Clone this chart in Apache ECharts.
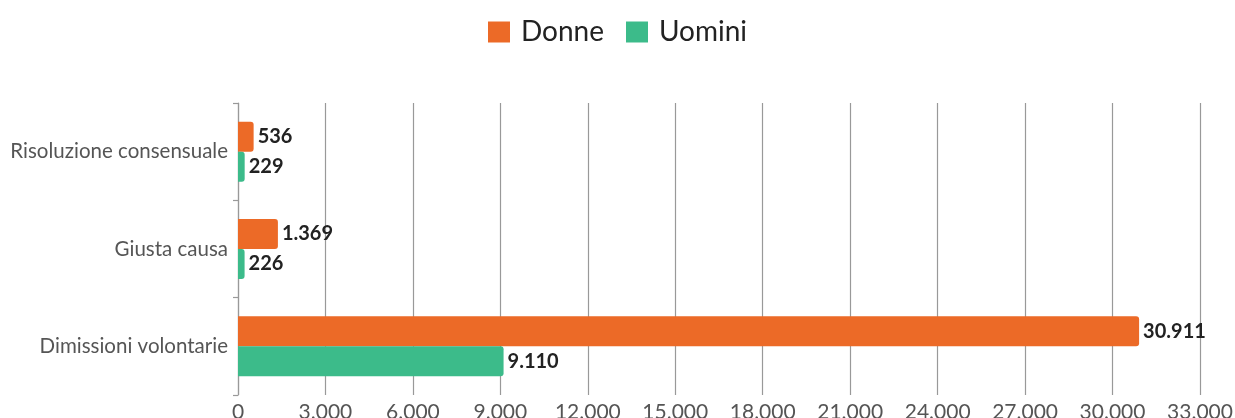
<!DOCTYPE html>
<html>
<head>
<meta charset="utf-8">
<script src="https://cdn.jsdelivr.net/npm/echarts@6/dist/echarts.min.js"></script>
<style>
  html, body { margin: 0; padding: 0; background: #fff; }
  #chart { width: 1235px; height: 418px; }
</style>
</head>
<body>
<div id="chart"></div>
<script>
const categories = ['Risoluzione consensuale', 'Giusta causa', 'Dimissioni volontarie']
const donne = [536, 1369, 30911]
const uomini = [229, 226, 9110]
const seriesNames = ['Donne', 'Uomini']

// separatore migliaia italiano
const fmt = v => String(v).replace(/\B(?=(\d{3})+(?!\d))/g, '.')

const chart = echarts.init(document.getElementById('chart'))

const valueLabel = {
  show: true,
  position: 'right',
  distance: 4,
  fontFamily: 'Lato',
  fontWeight: 'bold',
  fontSize: 20,
  color: '#222',
  formatter: p => fmt(p.value)
}

const option = {
  animation: false,
  textStyle: { fontFamily: 'Lato' },
  legend: {
    data: seriesNames,
    top: 13,
    left: 'center',
    itemWidth: 22,
    itemHeight: 21,
    itemGap: 22,
    icon: 'rect',
    textStyle: { fontSize: 28, color: '#222', fontFamily: 'Lato', padding: [0, 0, 0, 6] }
  },
  grid: {
    left: 238,
    right: 35,
    top: 103,
    bottom: 23,
    containLabel: false,
    outerBoundsMode: 'none'
  },
  xAxis: {
    type: 'value',
    min: 0,
    max: 33000,
    interval: 3000,
    axisLine: { show: false },
    axisTick: { show: false },
    axisLabel: {
      fontSize: 21,
      color: '#555',
      margin: 7,
      formatter: v => fmt(v)
    },
    splitLine: { show: true, lineStyle: { color: '#999', width: 1.2 } }
  },
  yAxis: {
    type: 'category',
    data: categories,
    inverse: true,
    axisLine: { show: true, lineStyle: { color: '#999', width: 1.2 } },
    axisTick: { show: true, length: 5, lineStyle: { color: '#999', width: 1.2 } },
    axisLabel: { fontSize: 20.5, color: '#555', margin: 10 }
  },
  series: [
    {
      name: seriesNames[0],
      type: 'bar',
      data: donne,
      barWidth: 30,
      barGap: '0%',
      itemStyle: { color: '#EC6A27', borderRadius: [0, 3, 3, 0] },
      label: valueLabel
    },
    {
      name: seriesNames[1],
      type: 'bar',
      data: uomini,
      barWidth: 30,
      barGap: '0%',
      itemStyle: { color: '#3CBB8A', borderRadius: [0, 3, 3, 0] },
      label: valueLabel
    }
  ]
}

chart.setOption(option)
</script>
</body>
</html>
